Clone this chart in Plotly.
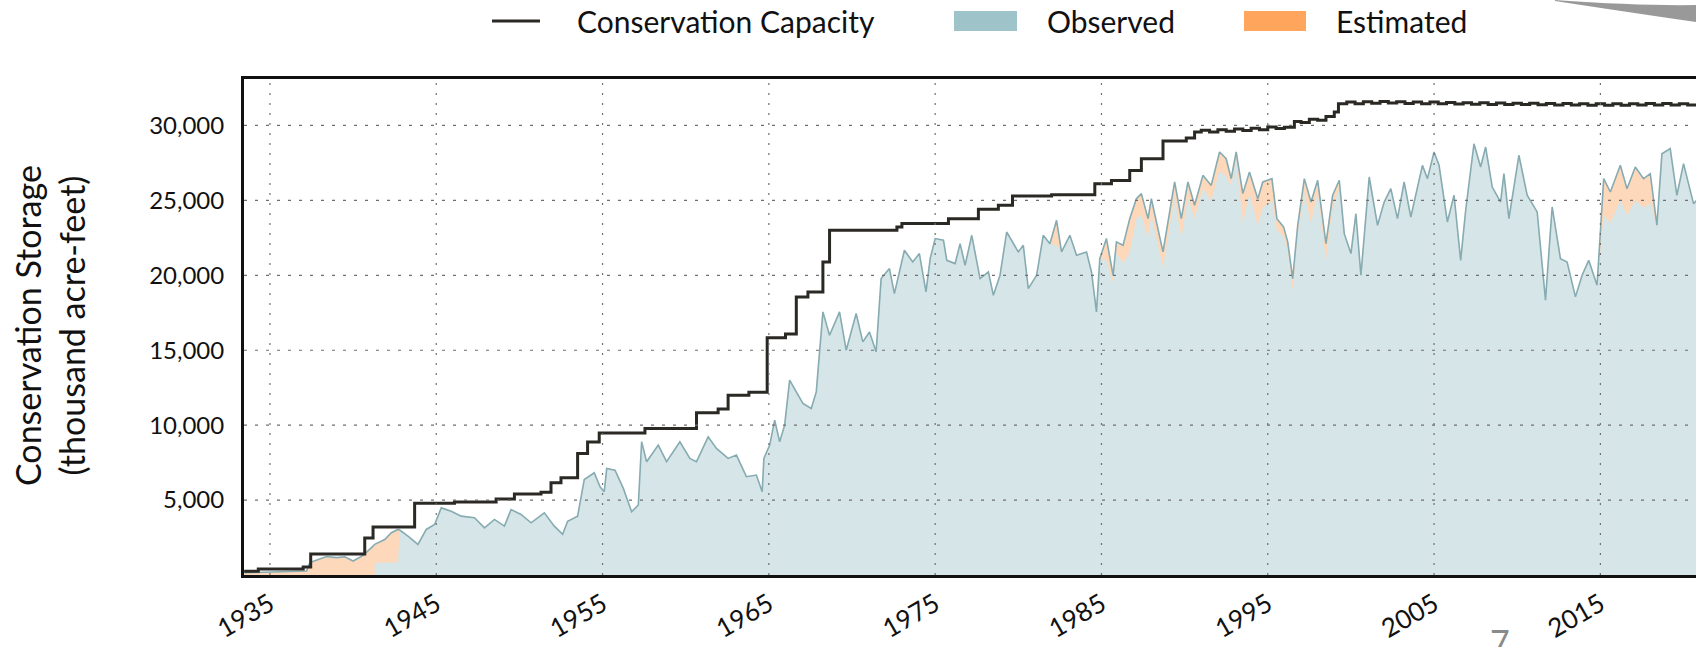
import plotly.graph_objects as go

# ---------------- data ----------------
CAP_YEARS = [1933.45, 1934.3, 1937.0, 1937.45, 1940.7, 1941.2, 1943.7, 1946.1, 1948.6, 1949.7,
             1951.3, 1951.9, 1952.5, 1953.5, 1954.1, 1954.8, 1957.55, 1960.65, 1961.95, 1962.55,
             1963.8, 1964.9, 1966.0, 1966.65, 1967.35, 1968.25, 1968.65, 1972.7, 1973.0, 1975.8,
             1977.6, 1978.8, 1979.65, 1982.0, 1984.6, 1985.6, 1986.7, 1987.4, 1988.7, 1990.1,
             1990.6, 1991.0, 1991.5, 1992.0, 1992.5, 1993.0, 1993.5, 1994.0, 1994.5, 1995.0,
             1995.5, 1996.0, 1996.6, 1997.0, 1997.5, 1998.0, 1998.5, 1999.0, 1999.25, 1999.75,
             2000.25, 2000.75, 2001.25, 2001.75, 2002.25, 2002.75, 2003.25, 2003.75, 2004.25, 2004.75,
             2005.25, 2005.75, 2006.25, 2006.75, 2007.25, 2007.75, 2008.25, 2008.75, 2009.25, 2009.75,
             2010.25, 2010.75, 2011.25, 2011.75, 2012.25, 2012.75, 2013.25, 2013.75, 2014.25, 2014.75,
             2015.25, 2015.75, 2016.25, 2016.75, 2017.25, 2017.75, 2018.25, 2018.75, 2019.25, 2019.75,
             2020.25, 2020.8]
CAP_VALUES = [250, 400, 530, 1400, 2470, 3200, 4780, 4870, 5070, 5400,
              5530, 6160, 6490, 8110, 8870, 9470, 9780, 10830, 11070, 12000,
              12200, 15830, 16090, 18560, 18890, 20890, 23000, 23230, 23450, 23780,
              24400, 24670, 25290, 25380, 26110, 26330, 27000, 27780, 28960, 29160,
              29560, 29680, 29560, 29720, 29620, 29760, 29660, 29820, 29720, 29900,
              29800, 29880, 30270, 30200, 30420, 30350, 30600, 30890, 31450, 31560,
              31450, 31580, 31480, 31600, 31500, 31580, 31470, 31560, 31450, 31560,
              31450, 31540, 31430, 31520, 31420, 31520, 31400, 31500, 31400, 31490,
              31390, 31480, 31380, 31470, 31370, 31460, 31360, 31450, 31350, 31450,
              31350, 31440, 31350, 31450, 31360, 31460, 31370, 31460, 31370, 31450,
              31360, 31400]

YEARS = [1933.45, 1935.0, 1935.4, 1937.2, 1937.4, 1938.4, 1939.0, 1939.5, 1940.0, 1940.6,
         1941.2, 1941.3, 1941.9, 1942.3, 1942.7, 1942.8, 1943.3, 1943.9, 1944.4, 1944.9,
         1945.3, 1945.9, 1946.5, 1947.3, 1947.9, 1948.5, 1949.1, 1949.5, 1950.1, 1950.7,
         1951.5, 1952.1, 1952.6, 1952.9, 1953.5, 1953.9, 1954.5, 1954.85, 1955.1, 1955.25,
         1955.75, 1956.25, 1956.75, 1957.15, 1957.35, 1957.65, 1958.35, 1958.85, 1959.65, 1960.25,
         1960.65, 1961.35, 1961.85, 1962.55, 1963.05, 1963.65, 1964.25, 1964.6, 1964.7, 1965.05,
         1965.35, 1965.65, 1965.95, 1966.25, 1966.65, 1967.05, 1967.55, 1967.85, 1968.25, 1968.65,
         1969.25, 1969.65, 1970.25, 1970.65, 1971.05, 1971.45, 1971.75, 1972.25, 1972.55, 1973.15,
         1973.65, 1974.05, 1974.45, 1974.7, 1975.0, 1975.5, 1975.7, 1976.2, 1976.5, 1976.8,
         1977.2, 1977.7, 1978.2, 1978.5, 1978.9, 1979.3, 1980.0, 1980.3, 1980.6, 1981.1,
         1981.5, 1981.9, 1982.3, 1982.6, 1983.1, 1983.5, 1984.1, 1984.4, 1984.7, 1984.9,
         1985.3, 1985.7, 1985.9, 1986.3, 1986.7, 1987.1, 1987.4, 1987.8, 1988.0, 1988.7,
         1989.4, 1989.8, 1990.2, 1990.6, 1991.1, 1991.6, 1992.1, 1992.5, 1992.8, 1993.1,
         1993.5, 1993.9, 1994.4, 1994.7, 1995.25, 1995.55, 1995.95, 1996.2, 1996.5, 1996.8,
         1997.2, 1997.6, 1998.0, 1998.5, 1998.9, 1999.3, 1999.6, 2000.0, 2000.3, 2000.6,
         2001.1, 2001.6, 2002.0, 2002.4, 2002.8, 2003.2, 2003.6, 2004.3, 2004.6, 2005.0,
         2005.3, 2005.8, 2006.2, 2006.6, 2006.9, 2007.4, 2007.8, 2008.1, 2008.5, 2009.0,
         2009.2, 2009.5, 2010.1, 2010.6, 2011.2, 2011.7, 2012.1, 2012.6, 2013.0, 2013.5,
         2013.9, 2014.3, 2014.8, 2015.2, 2015.6, 2016.2, 2016.6, 2017.1, 2017.6, 2018.0,
         2018.4, 2018.7, 2019.2, 2019.6, 2020.0, 2020.6, 2020.8]

TOTAL = [150, 200, 250, 270, 830, 1230, 1160, 1220, 930, 1310,
         1930, 2050, 2370, 2820, 3040, 3000, 2600, 2040, 3040, 3370,
         4480, 4260, 3930, 3820, 3150, 3710, 3260, 4370, 4040, 3480,
         4150, 3260, 2710, 3590, 3930, 6370, 6820, 5890, 5560, 7110,
         7000, 5780, 4220, 4670, 8890, 7560, 8670, 7560, 8890, 7780,
         7560, 9220, 8450, 7780, 8000, 6560, 6670, 5560, 7780, 8670,
         10340, 8890, 10000, 13000, 12220, 11450, 11110, 12220, 17560, 16000,
         17560, 15000, 17450, 15560, 16220, 14890, 19780, 20450, 18780, 21670,
         20890, 21450, 18890, 21110, 22450, 22340, 21000, 20780, 22110, 20670,
         22670, 19780, 20230, 18670, 20000, 22890, 21560, 22000, 19110, 20000,
         22670, 22110, 23670, 21560, 22670, 21340, 21560, 20230, 17560, 21110,
         22450, 20000, 22230, 22000, 23780, 25110, 25450, 23780, 25110, 21560,
         26230, 23780, 26230, 24670, 26670, 26000, 28230, 27780, 26450, 28230,
         25450, 26890, 25110, 26230, 26450, 23780, 23230, 22230, 19780, 23340,
         26450, 24890, 26340, 22110, 25340, 26340, 22780, 21450, 24110, 20000,
         26560, 23340, 24890, 25780, 23780, 26230, 23890, 27340, 26450, 28230,
         27340, 23560, 25340, 21000, 24340, 28780, 27230, 28560, 25890, 24890,
         26780, 23780, 28010, 25340, 24230, 18340, 24560, 21110, 20890, 18560,
         20000, 21000, 19340, 26450, 25560, 27340, 25780, 27230, 26450, 26780,
         23340, 28110, 28450, 25340, 27450, 24780, 25000]

OBSERVED = [0, 0, 0, 0, 0, 0, 0, 0, 0, 0,
            0, 800, 820, 850, 850, 3000, 2600, 2040, 3040, 3370,
            4480, 4260, 3930, 3820, 3150, 3710, 3260, 4370, 4040, 3480,
            4150, 3260, 2710, 3590, 3930, 6370, 6820, 5890, 5560, 7110,
            7000, 5780, 4220, 4670, 8890, 7560, 8670, 7560, 8890, 7780,
            7560, 9220, 8450, 7780, 8000, 6560, 6670, 5560, 7780, 8670,
            10340, 8890, 10000, 13000, 12220, 11450, 11110, 12220, 17560, 16000,
            17560, 15000, 17450, 15560, 16220, 14890, 19780, 20450, 18780, 21670,
            20890, 21450, 18890, 21110, 22450, 22340, 21000, 20780, 22110, 20670,
            22670, 19780, 20230, 18670, 20000, 22890, 21560, 22000, 19110, 20000,
            22670, 22110, 22000, 21560, 22670, 21340, 21560, 20230, 17560, 21110,
            21000, 19500, 21500, 20800, 21500, 23800, 24000, 22500, 24000, 20500,
            25200, 22500, 25200, 23800, 25800, 25000, 27000, 26600, 26000, 27800,
            23500, 25500, 23300, 24500, 25000, 23000, 22600, 21700, 19000, 22800,
            25500, 23500, 25600, 21000, 24500, 25800, 22780, 21450, 24110, 20000,
            26560, 23340, 24890, 25780, 23780, 26230, 23890, 27340, 26450, 28230,
            27340, 23560, 25340, 21000, 24340, 28780, 27230, 28560, 25890, 24890,
            26780, 23780, 28010, 25340, 24230, 18340, 24560, 21110, 20890, 18560,
            20000, 21000, 19340, 24000, 23500, 25000, 24000, 25000, 24500, 24800,
            23340, 28110, 28450, 25340, 27450, 24780, 25000]

X_TICKS = [1935, 1945, 1955, 1965, 1975, 1985, 1995, 2005, 2015]
X_TICK_TEXT = [str(v) for v in X_TICKS]
Y_TICKS = [5000, 10000, 15000, 20000, 25000, 30000]
Y_TICK_TEXT = ["5,000", "10,000", "15,000", "20,000", "25,000", "30,000"]
X_RANGE = [1933.44, 2020.75]
Y_RANGE = [0, 33100]

# ---------------- styling ----------------
W, H = 1696, 647
L, R, T, B = 244, 0, 79, 72
PW, PH = W - L - R, H - T - B
FONT = "Lato"
C_CAP = "#2b2924"
C_OBS_LEG = "#9ec4ca"
C_EST_LEG = "#ffa65c"
C_OBS_FILL = "#d6e5e7"
C_EST_FILL = "#fdd8ba"
C_LINE = "#86abb1"


def px(xp):
    return (xp - L) / PW


def py(yp):
    return (H - B - yp) / PH


fig = go.Figure()
fig.add_trace(go.Scatter(x=YEARS, y=TOTAL, mode="lines", fill="tozeroy",
                         fillcolor=C_EST_FILL, line=dict(width=0, color=C_EST_FILL),
                         showlegend=False, hoverinfo="skip"))
fig.add_trace(go.Scatter(x=YEARS[11:], y=OBSERVED[11:], mode="lines", fill="tozeroy",
                         fillcolor=C_OBS_FILL, line=dict(width=0, color=C_OBS_FILL),
                         showlegend=False, hoverinfo="skip"))
fig.add_trace(go.Scatter(x=YEARS, y=TOTAL, mode="lines",
                         line=dict(width=1.6, color=C_LINE), showlegend=False))
fig.add_trace(go.Scatter(x=CAP_YEARS, y=CAP_VALUES, mode="lines", line_shape="hv",
                         line=dict(width=3, color=C_CAP), showlegend=False))

shapes = []
# dotted grid drawn above the fills, at the tick positions
for v in X_TICKS:
    shapes.append(dict(type="line", xref="x", yref="paper", x0=v, x1=v, y0=0, y1=1,
                       line=dict(color="#6f6f6f", width=1.2, dash="2px,8px"), layer="above"))
for v in Y_TICKS:
    shapes.append(dict(type="line", xref="paper", yref="y", x0=0, x1=1, y0=v, y1=v,
                       line=dict(color="#6f6f6f", width=1.2, dash="3px,8px"), layer="above"))

# legend (manual)
LEG_Y = 21
shapes.append(dict(type="line", xref="paper", yref="paper", x0=px(492), x1=px(540),
                   y0=py(LEG_Y), y1=py(LEG_Y), line=dict(color=C_CAP, width=3)))
shapes.append(dict(type="rect", xref="paper", yref="paper", x0=px(954), x1=px(1017),
                   y0=py(LEG_Y + 10), y1=py(LEG_Y - 10), fillcolor=C_OBS_LEG, line=dict(width=0)))
shapes.append(dict(type="rect", xref="paper", yref="paper", x0=px(1244), x1=px(1306),
                   y0=py(LEG_Y + 10), y1=py(LEG_Y - 10), fillcolor=C_EST_LEG, line=dict(width=0)))

# slide decoration: shadow streak at top right
shapes.append(dict(type="path", xref="paper", yref="paper",
                   path=f"M {px(1555)},{py(0)} Q {px(1640)},{py(6)} {px(1696)},{py(5)} "
                        f"L {px(1696)},{py(22)} Q {px(1640)},{py(14)} {px(1555)},{py(1)} Z",
                   fillcolor="rgba(70,70,70,0.55)", line=dict(width=0), layer="above"))

annotations = []
LEG_FS = 30
for text, xp in [("Conservation Capacity", 575), ("Observed", 1045), ("Estimated", 1334)]:
    annotations.append(dict(text=text, xref="paper", yref="paper", x=px(xp), y=py(LEG_Y),
                            xanchor="left", yanchor="middle", showarrow=False,
                            font=dict(family=FONT, size=LEG_FS, color="#111111")))
annotations.append(dict(text="Conservation Storage<br>(thousand acre-feet)",
                        xref="paper", yref="paper", x=px(49), y=py(326), textangle=-90,
                        xanchor="center", yanchor="middle", showarrow=False,
                        font=dict(family=FONT, size=34, color="#111111")))
annotations.append(dict(text="7", xref="paper", yref="paper", x=px(1500), y=py(619),
                        xanchor="center", yanchor="top", showarrow=False,
                        font=dict(family=FONT, size=34, color="#8a8a8a")))

fig.update_layout(
    width=W, height=H,
    margin=dict(l=L, r=R, t=T, b=B, pad=0),
    paper_bgcolor="white", plot_bgcolor="white",
    showlegend=False,
    font=dict(family=FONT, size=24, color="#111111"),
    shapes=shapes, annotations=annotations,
    xaxis=dict(range=X_RANGE, tickvals=X_TICKS, ticktext=X_TICK_TEXT, tickangle=-30,
               showgrid=False, zeroline=False, showline=True, mirror=True,
               linecolor="#111111", linewidth=3, ticks="", ticklabelstandoff=1,
               tickfont=dict(family=FONT, size=26, color="#111111")),
    yaxis=dict(range=Y_RANGE, tickvals=Y_TICKS, ticktext=Y_TICK_TEXT,
               showgrid=False, zeroline=False, showline=True, mirror=False,
               linecolor="#111111", linewidth=3, ticks="", ticklabelstandoff=12,
               tickfont=dict(family=FONT, size=24, color="#111111")),
)

fig.write_html("out.html", config={"displayModeBar": False},
               post_script="document.body.style.margin='0px';document.body.style.overflow='hidden';")
